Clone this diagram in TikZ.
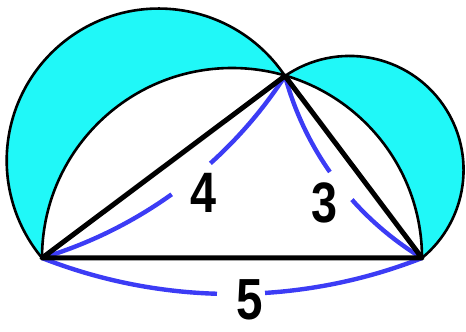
\documentclass[tikz,border=0pt]{standalone}
\usepackage{fontspec}
\setmainfont{Liberation Sans}
\definecolor{lune}{RGB}{32,248,248}
\definecolor{dimblue}{RGB}{60,60,245}
\begin{document}
\begin{tikzpicture}[x=1pt,y=1pt,
  arcline/.style={draw=black, line width=2.6pt},
  side/.style={draw=black, line width=5pt, line join=round},
  dim/.style={draw=dimblue, line width=4.4pt},
  lbl/.style={inner sep=0pt, font=\fontsize{57}{60}\selectfont\bfseries}]
\useasboundingbox (0,0) rectangle (466,332);
\coordinate (A) at (42,74);
\coordinate (B) at (422,74);
\coordinate (C) at (285,256);
% lunes
\fill[lune] (C) arc[start angle=33.8, end angle=219.85, radius=152]
  arc[start angle=180, end angle=73.8, radius=190] -- cycle;
\fill[lune] (C) arc[start angle=124.5, end angle=-50.5, radius=114]
  arc[start angle=0, end angle=73.8, radius=190] -- cycle;
% circle arcs
\draw[arcline] (C) arc[start angle=33.8, end angle=219.85, radius=152];
\draw[arcline] (C) arc[start angle=124.5, end angle=-50.5, radius=114];
\draw[arcline] (A) arc[start angle=180, end angle=0, radius=190];
% dimension arcs
\draw[dim] (A) arc[start angle=-73.3, end angle=-54.4, radius=440];
\draw[dim] (C) arc[start angle=-33, end angle=-48, radius=440];
\draw[dim] (C) arc[start angle=-164.9, end angle=-144.95, radius=305.8];
\draw[dim] (B) arc[start angle=-121.2, end angle=-138.35, radius=305.8];
\draw[dim] (A) arc[start angle=-111.45, end angle=-91.65, radius=519.4];
\draw[dim] (B) arc[start angle=-68.55, end angle=-86.36, radius=519.4];
% triangle
\draw[side] (A) -- (C) -- (B) -- cycle;
% labels
\node[lbl] (four) at (203.5,139.5) {\scalebox{0.82}[1]{4}};
\node[lbl] (three) at (324.5,129.5) {\scalebox{0.82}[1]{3}};
\node[lbl, font=\fontsize{58}{60}\selectfont\bfseries] (five) at (249.5,32) {\scalebox{0.82}[1]{5}};
\end{tikzpicture}
\end{document}
